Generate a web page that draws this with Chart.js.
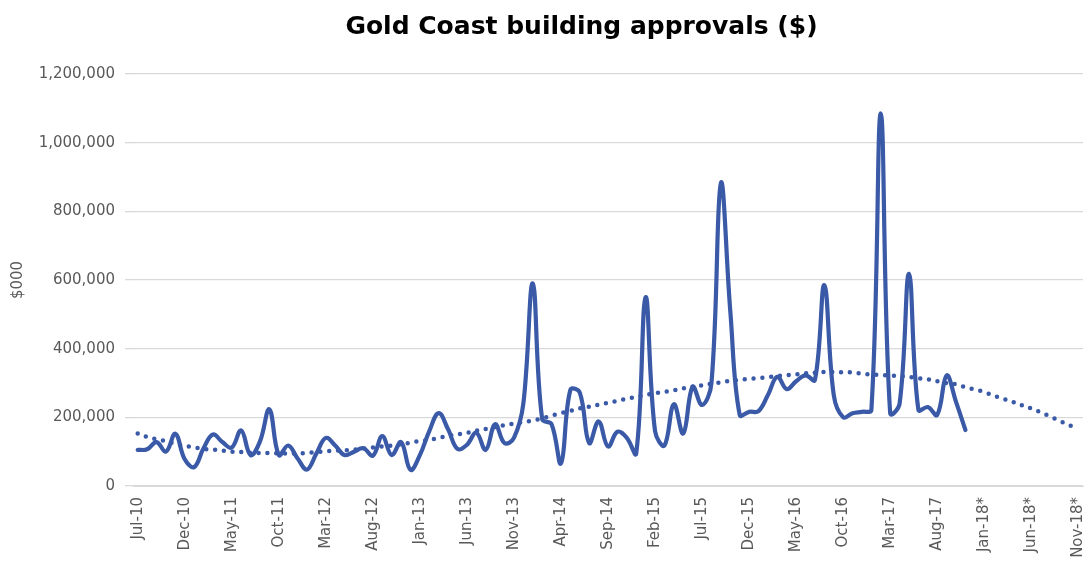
<!DOCTYPE html>
<html>
<head>
<meta charset="utf-8">
<script src="https://cdn.jsdelivr.net/npm/chart.js@4.4.0/dist/chart.umd.min.js"></script>
<style>
html,body{margin:0;padding:0;background:#ffffff;}
#wrap{width:1088px;height:564px;position:relative;}
</style>
</head>
<body>
<div id="wrap"><canvas id="c" width="1088" height="564"></canvas></div>
<script>
const months = [
  'Jul-10','Aug-10','Sep-10','Oct-10','Nov-10','Dec-10',
  'Jan-11','Feb-11','Mar-11','Apr-11','May-11','Jun-11','Jul-11','Aug-11','Sep-11','Oct-11','Nov-11','Dec-11',
  'Jan-12','Feb-12','Mar-12','Apr-12','May-12','Jun-12','Jul-12','Aug-12','Sep-12','Oct-12','Nov-12','Dec-12',
  'Jan-13','Feb-13','Mar-13','Apr-13','May-13','Jun-13','Jul-13','Aug-13','Sep-13','Oct-13','Nov-13','Dec-13',
  'Jan-14','Feb-14','Mar-14','Apr-14','May-14','Jun-14','Jul-14','Aug-14','Sep-14','Oct-14','Nov-14','Dec-14',
  'Jan-15','Feb-15','Mar-15','Apr-15','May-15','Jun-15','Jul-15','Aug-15','Sep-15','Oct-15','Nov-15','Dec-15',
  'Jan-16','Feb-16','Mar-16','Apr-16','May-16','Jun-16','Jul-16','Aug-16','Sep-16','Oct-16','Nov-16','Dec-16',
  'Jan-17','Feb-17','Mar-17','Apr-17','May-17','Jun-17','Jul-17','Aug-17','Sep-17','Oct-17','Nov-17','Dec-17',
  'Jan-18*','Feb-18*','Mar-18*','Apr-18*','May-18*','Jun-18*','Jul-18*','Aug-18*','Sep-18*','Oct-18*','Nov-18*'
];

// Monthly building approvals ($000), Jul-10 to Nov-17
const approvals = [
  105000,107000,128000,100000,152000,78000,
  55000,110000,150000,128000,112000,162000,90000,130000,223000,90000,118000,80000,
  48000,95000,140000,118000,90000,100000,110000,88000,145000,90000,128000,47000,
  90000,160000,212000,165000,108000,120000,155000,105000,180000,125000,140000,240000,
  590000,195000,180000,66000,280000,272000,125000,188000,115000,158000,140000,95000,
  550000,160000,118000,238000,153000,289000,236000,300000,882000,510000,207000,216000,
  218000,265000,318000,282000,305000,322000,309000,585000,265000,200000,212000,216000,
  222000,1085000,212000,240000,618000,222000,230000,207000,322000,245000,163000,null,
  null,null,null,null,null,null,null,null,null,null,null
];

// Dotted trend line, Jul-10 to Nov-18*
const trend = [
  153000,143000,136000,131000,123000,117000,
  112000,108000,106000,103000,100000,99000,97000,96000,96000,95000,95000,95000,
  96000,99000,101000,103000,104000,106000,109000,112000,115000,118000,121000,126000,
  131000,134000,140000,146000,150000,155000,161000,166000,172000,177000,182000,186000,
  191000,197000,205000,212000,219000,226000,231000,237000,242000,248000,254000,260000,
  265000,270000,274000,279000,284000,289000,293000,298000,302000,306000,309000,312000,
  314000,317000,320000,323000,325000,328000,330000,332000,332000,331000,331000,327000,
  325000,323000,322000,320000,318000,314000,311000,305000,300000,296000,288000,281000,
  274000,263000,254000,245000,235000,226000,215000,203000,190000,178000,165000
];

const yTicks = [0, 200000, 400000, 600000, 800000, 1000000, 1200000];

const lineBlue = '#3a5aa7';
const axisGrey = '#595959';
const gridGrey = '#d9d9d9';
const baseFont = 'DejaVu Sans';

// Shift the title box so its centre sits where the reference title is.
const titleShift = {
  id: 'titleShift',
  afterLayout: function (chart) {
    if (chart.titleBlock) {
      chart.titleBlock.left = 80;
      chart.titleBlock.right = 1083;
    }
  }
};

new Chart(document.getElementById('c').getContext('2d'), {
  type: 'line',
  plugins: [titleShift],
  data: {
    labels: months,
    datasets: [
      {
        label: 'Approvals',
        data: approvals,
        borderColor: lineBlue,
        borderWidth: 4.2,
        pointRadius: 0,
        tension: 0.4,
        fill: false,
        borderCapStyle: 'round',
        borderJoinStyle: 'round'
      },
      {
        label: 'Trend',
        data: trend,
        borderColor: lineBlue,
        borderWidth: 4.5,
        borderDash: [0, 8.8],
        borderCapStyle: 'round',
        pointRadius: 0,
        tension: 0.4,
        fill: false
      }
    ]
  },
  options: {
    responsive: false,
    animation: false,
    layout: { padding: { left: 0, right: 5, top: 0, bottom: 0 } },
    plugins: {
      legend: { display: false },
      tooltip: { enabled: false },
      title: {
        display: true,
        text: 'Gold Coast building approvals ($)',
        color: '#000000',
        font: { family: baseFont, size: 25, weight: 'bold' },
        padding: { top: 12, bottom: 32 }
      }
    },
    scales: {
      x: {
        offset: true,
        grid: { display: false, drawTicks: false },
        border: { display: true, color: gridGrey },
        ticks: {
          autoSkip: false,
          maxRotation: 90,
          minRotation: 90,
          padding: 11,
          color: axisGrey,
          font: { family: baseFont, size: 15 },
          callback: function (v, i) { return i % 5 === 0 ? months[i] : ''; }
        },
        afterFit: function (s) { s.height = 78; s.paddingLeft = 0; s.paddingRight = 0; }
      },
      y: {
        min: 0,
        max: 1200000,
        afterBuildTicks: function (s) { s.ticks = yTicks.map(function (v) { return { value: v }; }); },
        ticks: {
          color: axisGrey,
          padding: 10,
          font: { family: baseFont, size: 15 },
          callback: function (v) { return Number(v).toLocaleString('en-US'); }
        },
        grid: { color: gridGrey, tickLength: 8, lineWidth: 1.3 },
        border: { display: false },
        title: {
          display: true,
          text: '$000',
          color: axisGrey,
          font: { family: baseFont, size: 15 },
          padding: { top: 9, bottom: 0 }
        },
        afterFit: function (s) { s.width = 133; }
      }
    }
  }
});
</script>
</body>
</html>
